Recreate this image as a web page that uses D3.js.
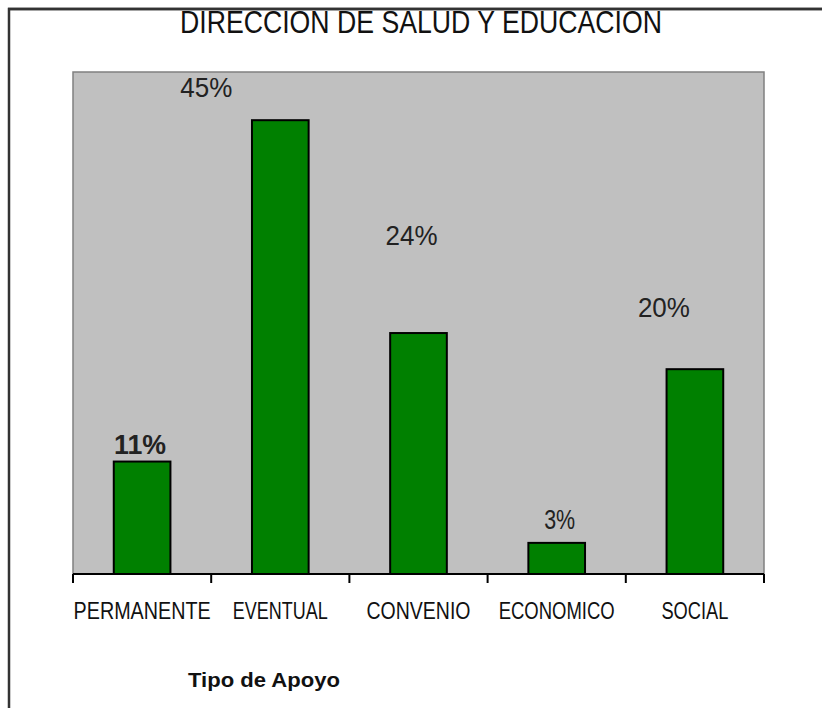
<!DOCTYPE html>
<html>
<head>
<meta charset="utf-8">
<script src="https://cdn.jsdelivr.net/npm/d3@7"></script>
<style>
  html, body { margin: 0; padding: 0; background: #fff; }
  svg { display: block; }
</style>
</head>
<body>
<div id="chart"></div>
<script>
// #### data
const categories = ['PERMANENTE', 'EVENTUAL', 'CONVENIO', 'ECONOMICO', 'SOCIAL'];
const values = [11.2, 45.2, 24, 3.1, 20.4];
const valueLabels = ['11%', '45%', '24%', '3%', '20%'];
const boldLabels = [true, false, false, false, false];
const titleText = 'DIRECCION DE SALUD Y EDUCACION';
const axisTitle = 'Tipo de Apoyo';

// Label placements were dragged around by hand in the original, so keep the offsets here (px from bar top centre).
const labelShift = [[-2, -8], [-74, -23], [-7, -88], [3, -14], [-31, -52]];

const width = 822;
const height = 708;
const plot = { left: 73, right: 764, top: 72, bottom: 574 };
const fontFamily = 'Liberation Sans, Arial, sans-serif';

const svg = d3.select('#chart')
  .append('svg')
  .attr('width', width)
  .attr('height', height);

// outer frame (only top and left edges show in the reference)
svg.append('path')
  .attr('d', `M9,${height} V9 H${width}`)
  .attr('fill', 'none')
  .attr('stroke', '#333')
  .attr('stroke-width', 2.5);

// title, tall and squeezed, partly tucked under the frame line
svg.append('text')
  .attr('x', 421)
  .attr('y', 33)
  .attr('text-anchor', 'middle')
  .attr('font-family', fontFamily)
  .attr('font-size', 32)
  .attr('fill', '#111')
  .attr('textLength', 482)
  .attr('lengthAdjust', 'spacingAndGlyphs')
  .text(titleText);

// redraw the frame top on top of the title
svg.append('line')
  .attr('x1', 8).attr('x2', width)
  .attr('y1', 9).attr('y2', 9)
  .attr('stroke', '#333')
  .attr('stroke-width', 2.5);

const x = d3.scaleBand()
  .domain(categories)
  .range([plot.left, plot.right])
  .padding(0);

const y = d3.scaleLinear()
  .domain([0, 50])
  .range([plot.bottom, plot.top]);

const barWidth = x.bandwidth() * 0.41;

// plot area
svg.append('rect')
  .attr('x', plot.left)
  .attr('y', plot.top)
  .attr('width', plot.right - plot.left)
  .attr('height', plot.bottom - plot.top)
  .attr('fill', '#c0c0c0')
  .attr('stroke', '#808080')
  .attr('stroke-width', 1.5);

// bars
svg.selectAll('.bar')
  .data(categories)
  .enter().append('rect')
  .attr('class', 'bar')
  .attr('x', d => x(d) + x.bandwidth() / 2 - barWidth / 2)
  .attr('y', (d, i) => y(values[i]))
  .attr('width', barWidth)
  .attr('height', (d, i) => y(0) - y(values[i]))
  .attr('fill', '#008000')
  .attr('stroke', '#000')
  .attr('stroke-width', 2);

// x axis with ticks between categories
const axis = svg.append('g')
  .attr('class', 'axis axis--x')
  .attr('transform', `translate(0,${plot.bottom})`);

axis.append('line')
  .attr('x1', plot.left).attr('x2', plot.right)
  .attr('stroke', '#000')
  .attr('stroke-width', 2);

const tickXs = categories.map(c => x(c)).concat([x(categories[categories.length - 1]) + x.bandwidth()]);
axis.selectAll('.tick-mark')
  .data(tickXs)
  .enter().append('line')
  .attr('class', 'tick-mark')
  .attr('x1', d => d).attr('x2', d => d)
  .attr('y1', 0).attr('y2', 9)
  .attr('stroke', '#000')
  .attr('stroke-width', 2);

const catWidths = [137, 95, 104, 116, 67];
axis.selectAll('.cat-label')
  .data(categories)
  .enter().append('text')
  .attr('class', 'cat-label')
  .attr('x', d => x(d) + x.bandwidth() / 2)
  .attr('y', 45)
  .attr('text-anchor', 'middle')
  .attr('font-family', fontFamily)
  .attr('font-size', 23)
  .attr('fill', '#111')
  .attr('textLength', (d, i) => catWidths[i])
  .attr('lengthAdjust', 'spacingAndGlyphs')
  .text(d => d);

// value labels
svg.selectAll('.value-label')
  .data(categories)
  .enter().append('text')
  .attr('class', 'value-label')
  .attr('x', (d, i) => x(d) + x.bandwidth() / 2 + labelShift[i][0])
  .attr('y', (d, i) => y(values[i]) + labelShift[i][1])
  .attr('text-anchor', 'middle')
  .attr('font-family', fontFamily)
  .attr('font-size', 28)
  .attr('font-weight', (d, i) => boldLabels[i] ? 'bold' : 'normal')
  .attr('fill', '#222')
  .attr('textLength', (d, i) => valueLabels[i].length === 2 ? 31 : 52)
  .attr('lengthAdjust', 'spacingAndGlyphs')
  .text((d, i) => valueLabels[i]);

// axis title
svg.append('text')
  .attr('x', 264)
  .attr('y', 687)
  .attr('text-anchor', 'middle')
  .attr('font-family', fontFamily)
  .attr('font-size', 20)
  .attr('font-weight', 'bold')
  .attr('fill', '#111')
  .attr('textLength', 152)
  .attr('lengthAdjust', 'spacingAndGlyphs')
  .text(axisTitle);
</script>
</body>
</html>
